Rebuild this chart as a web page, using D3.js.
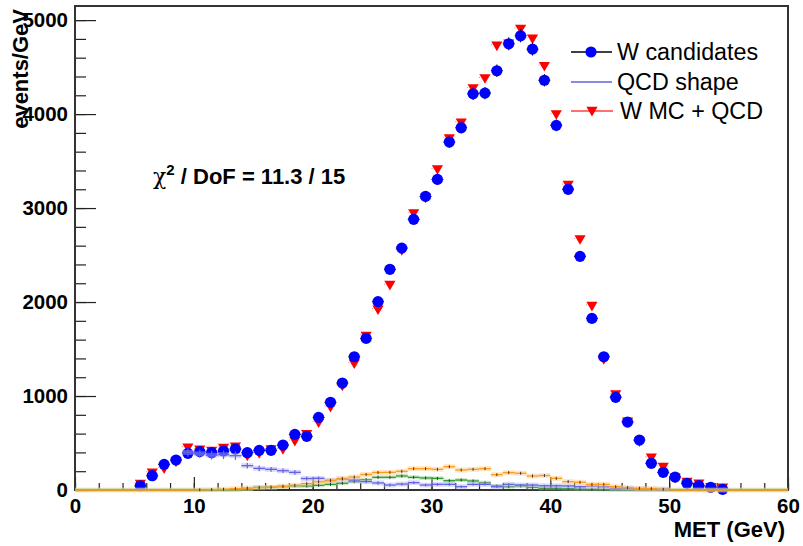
<!DOCTYPE html>
<html>
<head>
<meta charset="utf-8">
<script src="https://cdn.jsdelivr.net/npm/d3@7"></script>
<style>
  body { margin: 0; background: #fff; }
  text { font-family: 'Liberation Sans', Arial, sans-serif; }
</style>
</head>
<body>
<div id="main"></div>
<script>
const w = 803, h = 546;
const frameL = 75, frameR = 788, frameT = 6, frameB = 490;

// bin centres in GeV, 1 GeV bins
const wBins = d3.range(5.5, 55, 1);
const wCandidates = [45, 152, 273, 319, 390, 408, 397, 415, 436, 397,
  422, 422, 479, 592, 571, 773, 933, 1138, 1418, 1613,
  2004, 2348, 2574, 2880, 3124, 3305, 3702, 3855, 4216, 4223,
  4461, 4748, 4833, 4691, 4360, 3880, 3199, 2486, 1826, 1418,
  986, 723, 532, 284, 188, 138, 71, 46, 29, 7];
const wMcQcd = [75, 195, 240, 310, 461, 440, 426, 457, 471, 375,
  400, 443, 445, 532, 603, 727, 894, 1120, 1355, 1650,
  1930, 2191, 2560, 2954, 3120, 3422, 3752, 3918, 4284, 4390,
  4737, 4760, 4915, 4812, 4521, 4007, 3255, 2677, 1968, 1400,
  1028, 737, 525, 354, 255, 140, 96, 78, 40, 35];

const qcdBins = d3.range(9.5, 50, 1);
const qcdShape = [400, 385, 370, 375, 365, 259, 230, 220, 205, 188,
  122, 124, 103, 117, 106, 89, 75, 53, 63, 78,
  53, 60, 60, 35, 60, 60, 35, 60, 53, 53,
  45, 45, 43, 35, 40, 35, 18, 18, 10, 10, 8];
const qcdErr = [45, 45, 45, 45, 45, 30, 30, 25, 25, 25,
  20, 20, 20, 20, 20, 18, 18, 15, 15, 15,
  15, 15, 15, 12, 12, 12, 12, 12, 12, 12,
  10, 10, 10, 10, 10, 10, 8, 8, 6, 6, 5];

const allBins = d3.range(0.5, 60, 1);
const orange = [0, 0, 0, 0, 0, 0, 0, 0, 0, 0,
  2, 4, 8, 15, 20, 25, 30, 40, 50, 68,
  87, 99, 120, 138, 165, 186, 188, 199, 227, 227,
  220, 248, 213, 220, 227, 163, 185, 178, 149, 154,
  124, 89, 82, 60, 60, 35, 25, 18, 14, 7,
  0, 0, 0, 0, 0, 0, 0, 0, 0, 0];
const green = [0, 0, 0, 0, 0, 0, 0, 0, 0, 0,
  0, 0, 0, 0, 10, 29, 29, 35, 43, 43,
  50, 60, 72, 89, 110, 135, 135, 149, 135, 128,
  124, 99, 106, 96, 78, 43, 35, 43, 28, 18,
  18, 14, 10, 7, 5, 0, 0, 0, 0, 0,
  0, 0, 0, 0, 0, 0, 0, 0, 0, 0];

const xTicks = [0, 10, 20, 30, 40, 50, 60];
const yTicks = [0, 1000, 2000, 3000, 4000, 5000];
const legendLabels = ['W candidates', 'QCD shape', 'W MC + QCD'];

const svg = d3.select('#main')
  .append('svg')
  .attr('width', w)
  .attr('height', h)
  .style('background', '#fff');

const x = d3.scaleLinear().domain([0, 60]).range([frameL, frameR]);
const y = d3.scaleLinear().domain([0, 5150]).range([frameB, frameT]);
const halfBin = (x(1) - x(0)) / 2;

// axes
const yAxis = d3.axisLeft(y).tickValues(yTicks).tickSize(-21).tickPadding(7).tickFormat(d3.format('d'));
const yMinor = d3.axisLeft(y).tickValues(d3.range(0, 5150, 200)).tickSize(-11).tickFormat('');
const xAxis = d3.axisBottom(x).tickValues(xTicks).tickSize(-13).tickPadding(8);
const xMinor = d3.axisBottom(x).tickValues(d3.range(0, 61, 2)).tickSize(-7).tickFormat('');

[[yMinor, 'translate(' + frameL + ',0)'], [yAxis, 'translate(' + frameL + ',0)'],
 [xMinor, 'translate(0,' + frameB + ')'], [xAxis, 'translate(0,' + frameB + ')']].forEach(([ax, tr]) => {
  const g = svg.append('g').attr('transform', tr).call(ax);
  g.select('.domain').remove();
  g.selectAll('line').attr('stroke', '#222').attr('stroke-width', 1.2);
  g.selectAll('text')
    .attr('fill', '#000')
    .style('font-size', '20.5px')
    .style('font-weight', 'bold')
    .style('font-family', "'Liberation Sans', Arial, sans-serif");
});

// frame
svg.append('rect')
  .attr('x', frameL).attr('y', frameT)
  .attr('width', frameR - frameL).attr('height', frameB - frameT)
  .attr('fill', 'none')
  .attr('stroke', '#333')
  .attr('stroke-width', 2);

// W MC + QCD (red down triangles)
const red = svg.append('g');
wBins.forEach((b, i) => {
  red.append('line')
    .attr('x1', x(b) - halfBin).attr('x2', x(b) + halfBin)
    .attr('y1', y(wMcQcd[i])).attr('y2', y(wMcQcd[i]))
    .attr('stroke', '#ff8080').attr('stroke-width', 1).attr('stroke-dasharray', '1,3');
});
red.selectAll('path')
  .data(wBins)
  .enter()
  .append('path')
  .attr('d', d3.symbol(d3.symbolTriangle, 54))
  .attr('transform', (d, i) => 'translate(' + x(d) + ',' + y(wMcQcd[i]) + ') rotate(180)')
  .attr('fill', '#ff0000');

// W candidates (blue circles with black error bars)
const blue = svg.append('g');
wBins.forEach((b, i) => {
  const v = wCandidates[i], e = Math.sqrt(v);
  blue.append('line')
    .attr('x1', x(b) - halfBin).attr('x2', x(b) + halfBin)
    .attr('y1', y(v)).attr('y2', y(v))
    .attr('stroke', '#000').attr('stroke-width', 1);
  blue.append('line')
    .attr('x1', x(b)).attr('x2', x(b))
    .attr('y1', y(v + e)).attr('y2', y(Math.max(v - e, 0)))
    .attr('stroke', '#000').attr('stroke-width', 1);
});
blue.selectAll('circle')
  .data(wBins)
  .enter()
  .append('circle')
  .attr('cx', d => x(d))
  .attr('cy', (d, i) => y(wCandidates[i]))
  .attr('r', 5.6)
  .attr('fill', '#0000ff');

// component histograms: bin line + light band + small error tick
function drawHist(bins, vals, errs, lineCol, bandCol, band) {
  const g = svg.append('g');
  bins.forEach((b, i) => {
    const v = vals[i];
    g.append('rect')
      .attr('x', x(b) - halfBin).attr('width', halfBin * 2)
      .attr('y', y(v) - band).attr('height', band * 2)
      .attr('fill', bandCol).attr('opacity', 0.45);
    g.append('line')
      .attr('x1', x(b) - halfBin).attr('x2', x(b) + halfBin)
      .attr('y1', y(v)).attr('y2', y(v))
      .attr('stroke', lineCol).attr('stroke-width', 1.3);
    const e = errs ? errs[i] : 0;
    if (e > 0) {
      g.append('line')
        .attr('x1', x(b)).attr('x2', x(b))
        .attr('y1', y(v + e)).attr('y2', y(Math.max(v - e, 0)))
        .attr('stroke', lineCol).attr('stroke-width', 1.2);
    } else if (v > 0) {
      g.append('line')
        .attr('x1', x(b)).attr('x2', x(b))
        .attr('y1', y(v) - 1.5).attr('y2', y(v) + 1.5)
        .attr('stroke', '#333').attr('stroke-width', 1);
    }
  });
}
drawHist(allBins, green, null, '#2f9a2f', '#8fd08f', 2);
drawHist(qcdBins, qcdShape, qcdErr, '#6262e2', '#b0b0f2', 2.5);
drawHist(allBins, orange, null, '#ff9a1a', '#ffc880', 2.5);

// axis titles
svg.append('text')
  .text('MET (GeV)')
  .attr('x', 785)
  .attr('y', 537)
  .attr('text-anchor', 'end')
  .style('font-size', '22px')
  .style('font-weight', 'bold');

svg.append('text')
  .text('events/GeV')
  .attr('transform', 'translate(28,9) rotate(-90)')
  .attr('text-anchor', 'end')
  .style('font-size', '22px')
  .style('font-weight', 'bold');

// fit result
const chi = svg.append('text')
  .attr('x', 153)
  .attr('y', 184)
  .style('font-size', '22px')
  .style('font-weight', 'bold');
chi.append('tspan').text('χ').style('font-family', "'DejaVu Serif', serif").style('font-weight', 'normal');
chi.append('tspan').text('2').attr('dy', -9).style('font-size', '15px');
chi.append('tspan').text(' / DoF = 11.3 / 15').attr('dy', 9);

// legend
const legY = [52, 82, 111];
const leg = svg.append('g');
leg.append('line').attr('x1', 571).attr('x2', 612).attr('y1', legY[0]).attr('y2', legY[0]).attr('stroke', '#000').attr('stroke-width', 1.3);
leg.append('circle').attr('cx', 591).attr('cy', legY[0]).attr('r', 5.6).attr('fill', '#0000ff');
leg.append('line').attr('x1', 571).attr('x2', 612).attr('y1', legY[1]).attr('y2', legY[1]).attr('stroke', '#6262e2').attr('stroke-width', 1.3);
leg.append('line').attr('x1', 571).attr('x2', 613).attr('y1', legY[2]).attr('y2', legY[2]).attr('stroke', '#ff4040').attr('stroke-width', 1.3);
leg.append('path')
  .attr('d', d3.symbol(d3.symbolTriangle, 54))
  .attr('transform', 'translate(592,' + (legY[2] - 1) + ') rotate(180)')
  .attr('fill', '#ff0000');
leg.selectAll('text')
  .data(legendLabels)
  .enter()
  .append('text')
  .text(d => d)
  .attr('x', (d, i) => i == 2 ? 620 : 617)
  .attr('y', (d, i) => legY[i] + 8)
  .style('font-size', '23.3px');
</script>
</body>
</html>
